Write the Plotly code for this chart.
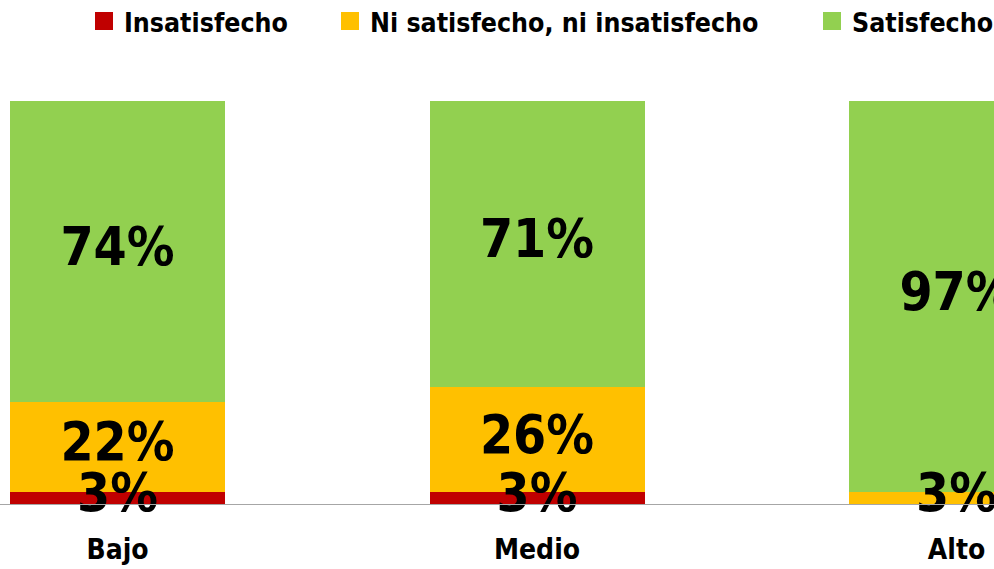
import plotly.graph_objects as go

# Satisfaction by level (percent of respondents)
levels = ["Bajo", "Medio", "Alto"]
series_names = ["Insatisfecho", "Ni satisfecho, ni insatisfecho", "Satisfecho"]
insatisfecho = [3, 3, 0]
ni_ni = [22, 26, 3]
satisfecho = [74, 71, 97]
colors = ["#C00000", "#FFC000", "#92D050"]

FONT = "DejaVu Sans Condensed"
W, H = 994, 569
M_T, M_B = 101, 65
series = [insatisfecho, ni_ni, satisfecho]
xs = list(range(len(levels)))

fig = go.Figure()
for name, vals, col in zip(series_names, series, colors):
    fig.add_trace(go.Bar(
        x=xs, y=vals, name=name, marker=dict(color=col, line=dict(width=0)),
        width=0.5125, hoverinfo="skip", showlegend=False,
    ))

# Percentage labels centred on each segment (normalised stack)
lx, ly, lt = [], [], []
for i in xs:
    total = sum(s[i] for s in series)
    base = 0.0
    for s in series:
        share = s[i] / total * 100
        if s[i] > 0:
            lx.append(i)
            ly.append(base + share / 2)
            lt.append(f"{s[i]}%")
        base += share
fig.add_trace(go.Scatter(
    x=lx, y=ly, text=lt, mode="text", textposition="middle center",
    textfont=dict(family=FONT, size=53, color="black", weight="bold"),
    showlegend=False, hoverinfo="skip", cliponaxis=False,
))

# Legend row across the top: coloured square + series name
plot_h = H - M_T - M_B
def py(y_px):
    return (H - M_B - y_px) / plot_h

legend_x = [95, 341, 823]
for x0, name, col in zip(legend_x, series_names, colors):
    fig.add_shape(type="rect", xref="paper", yref="paper",
                  x0=x0 / W, x1=(x0 + 18) / W, y0=py(30), y1=py(12),
                  fillcolor=col, line=dict(width=0))
    fig.add_annotation(xref="paper", yref="paper", x=(x0 + 27) / W, y=py(22),
                       xanchor="left", yanchor="middle", showarrow=False,
                       text=name,
                       font=dict(family=FONT, size=26.5, color="black", weight="bold"))

fig.update_layout(
    width=W, height=H,
    margin=dict(l=0, r=0, t=M_T, b=M_B),
    barmode="stack", barnorm="percent",
    plot_bgcolor="white", paper_bgcolor="white",
    showlegend=False,
    xaxis=dict(
        range=[-0.2801, 2.0894], tickvals=xs, ticktext=levels,
        showline=True, linecolor="#A6A6A6", linewidth=1, ticks="",
        showgrid=False, zeroline=False, ticklabelstandoff=20,
        tickfont=dict(family=FONT, size=28, color="black", weight="bold"),
    ),
    yaxis=dict(range=[0, 100], visible=False, showgrid=False, zeroline=False),
)

fig.write_html("out.html")
